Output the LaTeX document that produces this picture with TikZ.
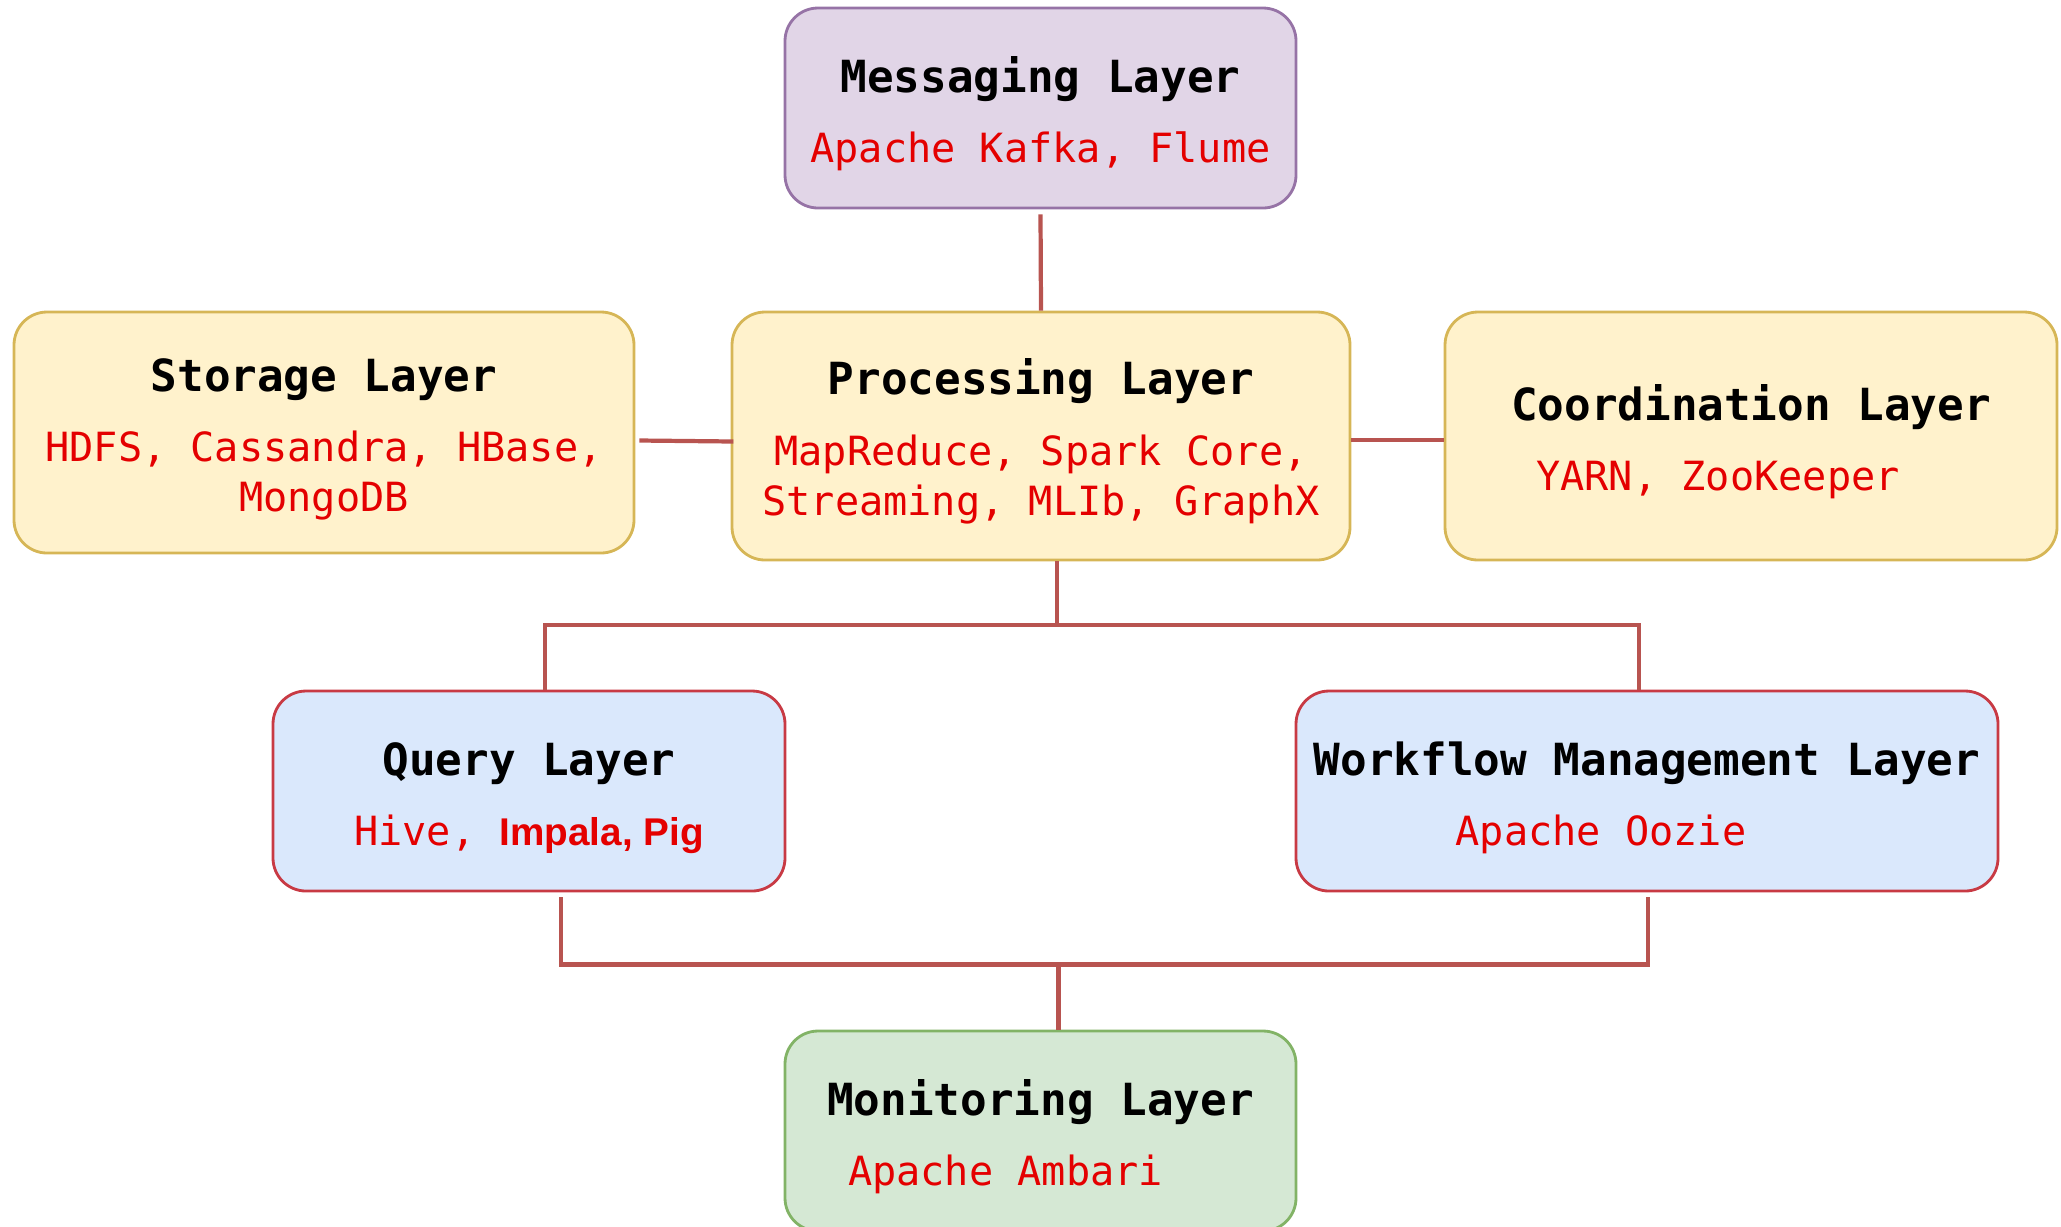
\documentclass[tikz,border=0pt]{standalone}
\usepackage{fontspec}
\setmonofont{DejaVu Sans Mono}
\newfontfamily\sansbold{Liberation Sans}
\usepackage{tikz}

\definecolor{purplefill}{HTML}{E1D5E7}
\definecolor{purpleline}{HTML}{9673A6}
\definecolor{yellowfill}{HTML}{FFF2CC}
\definecolor{yellowline}{HTML}{D6B656}
\definecolor{bluefill}{HTML}{DAE8FC}
\definecolor{blueline}{HTML}{C83A44}
\definecolor{greenfill}{HTML}{D5E8D4}
\definecolor{greenline}{HTML}{82B366}
\definecolor{linkred}{HTML}{B85450}
\definecolor{toolred}{RGB}{228,0,0}

% title line of a box; the strut pushes the text block a bit down
\newcommand{\layername}[1]{{\fontsize{12.6}{15}\selectfont\ttfamily\bfseries\color{black}\rule{0pt}{13.3pt}#1}}
\newcommand{\toolfont}{\fontsize{11.45}{14.2}\selectfont\ttfamily\color{toolred}}

\begin{document}
\begin{tikzpicture}[
    layer/.style={draw, line width=0.8pt, rounded corners=3.3mm, inner sep=0pt,
      align=center, font=\toolfont, minimum height=2cm},
    msgbox/.style={layer, fill=purplefill, draw=purpleline},
    corebox/.style={layer, fill=yellowfill, draw=yellowline},
    accessbox/.style={layer, fill=bluefill, draw=blueline},
    monbox/.style={layer, fill=greenfill, draw=greenline},
    link/.style={draw=linkred, line width=1.2pt}
  ]
  \useasboundingbox (0,0) rectangle (20.61,-12.26);

  % top: messaging
  \node[msgbox, minimum width=5.11cm] (msg) at (10.405,-1.08)
    {\layername{Messaging Layer}\\[5.8pt]Apache Kafka, Flume};

  % middle row: storage, processing, coordination
  \node[corebox, minimum width=6.20cm, minimum height=2.41cm] (store) at (3.24,-4.325)
    {\layername{Storage Layer}\\[5.8pt]HDFS, Cassandra, HBase,\\MongoDB};
  \node[corebox, minimum width=6.18cm, minimum height=2.48cm] (proc) at (10.41,-4.36)
    {\layername{Processing Layer}\\[5.8pt]MapReduce, Spark Core,\\Streaming, MLIb, GraphX};
  \node[corebox, minimum width=6.12cm, minimum height=2.48cm] (coord) at (17.51,-4.36)
    {\layername{Coordination Layer}\\[5.8pt]YARN, ZooKeeper\kern0.66cm};

  % lower row: query and workflow
  \node[accessbox, minimum width=5.12cm] (query) at (5.29,-7.91)
    {\layername{Query Layer}\\[5.8pt]Hive,~{\sansbold\bfseries\fontsize{11}{14}\selectfont Impala, Pig}};
  \node[accessbox, minimum width=7.02cm] (work) at (16.47,-7.91)
    {\layername{Workflow Management Layer}\\[5.8pt]Apache Oozie\kern0.92cm};

  % bottom: monitoring
  \node[monbox, minimum width=5.11cm] (mon) at (10.405,-11.31)
    {\layername{Monitoring Layer}\\[5.8pt]Apache Ambari\kern0.7cm};

  % connectors
  \draw[link] ([yshift=-0.5mm]msg.south) -- (proc.north);
  \draw[link] ([xshift=0.4mm,yshift=-0.8mm]store.east) -- ++(0.94,-0.01);
  \draw[link] ([yshift=-0.4mm]proc.east) -- ([yshift=-0.4mm]proc.east -| coord.west);
  % bus under processing
  \draw[link] ([xshift=1.6mm]proc.south) -- ++(0,-0.66);
  \draw[link] ([xshift=1.6mm]query.north) -- ++(0,0.65) -| ([xshift=-0.8mm]work.north);
  % bus above monitoring
  \draw[link] ([xshift=3.2mm,yshift=-0.5mm]query.south) -- ++(0,-0.67) -| ([xshift=0.1mm,yshift=-0.5mm]work.south);
  \draw[link] ([xshift=1.8mm]mon.north) -- ++(0,0.68);
\end{tikzpicture}
\end{document}
